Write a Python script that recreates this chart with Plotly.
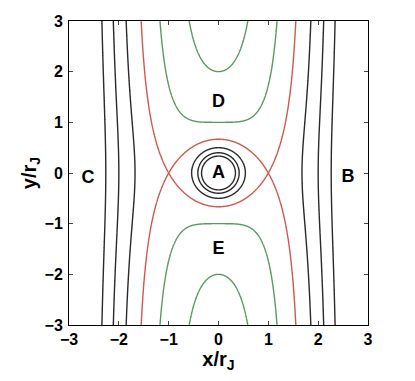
import numpy as np
import plotly.graph_objects as go

# Contour levels (Jacobi-like constant)
green_levels = [0.5, 1.0]
red_levels = [1.5]
black_levels = [2.0, 2.5, 3.0]

x_ticks = [-3, -2, -1, 0, 1, 2, 3]
y_ticks = [-3, -2, -1, 0, 1, 2, 3]

region_labels = ["A", "B", "C", "D", "E"]
region_x = [0.0, 2.6, -2.62, 0.0, 0.0]
region_y = [0.0, -0.08, -0.1, 1.4, -1.5]

# Hill-problem effective potential field, scaled so L1/L2 sit at x = +-1
n = 700
xs = np.linspace(-3.2, 3.2, n)
ys = np.linspace(-3.2, 3.2, n)
X, Y = np.meshgrid(xs, ys)
R = np.sqrt(X**2 + Y**2)
R = np.maximum(R, 1e-3)
Z = np.minimum(0.5 * X**2 + 1.0 / R, 50).astype(np.float32)

fig = go.Figure()

def add_levels(levels, color):
    for lv in levels:
        fig.add_trace(go.Contour(
            x=xs.astype(np.float32), y=ys.astype(np.float32), z=Z,
            contours=dict(start=lv, end=lv, size=1, coloring="lines", showlabels=False),
            colorscale=[[0, color], [1, color]],
            line=dict(width=1.4),
            showscale=False, hoverinfo="skip",
        ))

add_levels(green_levels, "#5a9a5e")
add_levels(red_levels, "#d2574c")
add_levels(black_levels, "#2a2a2a")

fig.add_trace(go.Scatter(
    x=region_x, y=region_y, mode="text",
    text=["<b>%s</b>" % t for t in region_labels],
    textfont=dict(family="Liberation Sans", size=18, color="black"),
    textposition="middle center", hoverinfo="skip", showlegend=False,
))

def fmt(v):
    s = ("\u2212" + str(abs(v))) if v < 0 else str(v)
    return "<b>%s</b>" % s

axis_common = dict(
    showgrid=False, zeroline=False, showline=True, linecolor="black", linewidth=1,
    mirror="ticks", ticks="inside", ticklen=4, tickwidth=1, tickcolor="#444",
    tickfont=dict(family="Liberation Sans", size=16, color="black"),
    range=[-3, 3],
)

fig.update_layout(
    width=415, height=381,
    margin=dict(l=69, r=47, t=21, b=56),
    plot_bgcolor="white", paper_bgcolor="white",
    showlegend=False,
    xaxis=dict(**axis_common, tickvals=x_ticks, ticktext=[fmt(v) for v in x_ticks],
               ticklabelstandoff=0,
               title=dict(text="<b>x/r<sub>J</sub></b>", standoff=0,
                          font=dict(family="Liberation Sans", size=20, color="black"))),
    yaxis=dict(**axis_common, tickvals=y_ticks, ticktext=[fmt(v) for v in y_ticks],
               ticklabelstandoff=2,
               title=dict(text="<b>y/r<sub>J</sub></b>", standoff=2,
                          font=dict(family="Liberation Sans", size=20, color="black"))),
)

fig.write_html("out.html")
